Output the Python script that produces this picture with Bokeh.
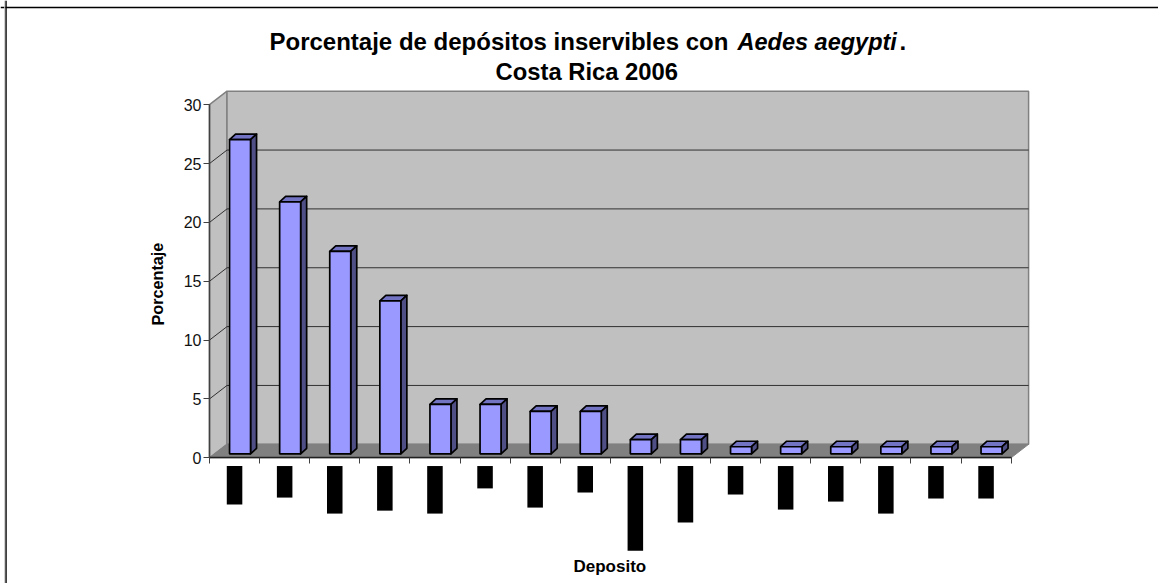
from bokeh.plotting import figure
from bokeh.embed import file_html
from bokeh.resources import INLINE
from bokeh.models import LinearAxis, FixedTicker, Range1d, Label, Span

categories = list(range(1, 17))
porcentaje = [26.7, 21.4, 17.2, 13.0, 4.2, 4.2, 3.6, 3.6, 1.2, 1.2, 0.6, 0.6, 0.6, 0.6, 0.6, 0.6]
# tick labels in the reference are blacked out: depth each black block reaches, in axis units
label_block_end = [-3.97, -3.38, -4.74, -4.49, -4.74, -2.6, -4.23, -2.95, -7.89, -5.5, -3.12, -4.4, -3.72, -4.74, -3.46, -3.46]
y_ticks = [0, 5, 10, 15, 20, 25, 30]

W, H = 1158, 583
X0, XSTEP = 209.0, 50.1     # px of axis origin, px per category
Y0, YUNIT = 457.3, 11.77    # px of value 0, px per value unit
DX, DY = 17.5 / XSTEP, 13.5 / YUNIT   # depth of the 3D box
BDX, BDY = 6.0 / XSTEP, 5.5 / YUNIT   # depth of one bar

p = figure(width=W, height=H, output_backend="svg", toolbar_location=None,
           min_border=0,
           x_range=Range1d((0 - X0) / XSTEP, (W - X0) / XSTEP),
           y_range=Range1d((Y0 - H) / YUNIT, Y0 / YUNIT),
           x_axis_location=None, y_axis_location=None)
p.grid.visible = False
p.outline_line_color = None
p.background_fill_color = "white"
p.border_fill_color = "white"

n = len(categories)
top = y_ticks[-1]
GC = "#808080"

p.patch([0, DX, DX, 0], [0, DY, top + DY, top], fill_color="#C0C0C0", line_color=GC, line_width=1.5)
p.patch([DX, n + DX, n + DX, DX], [DY, DY, top + DY, top + DY], fill_color="#C0C0C0", line_color=GC, line_width=1.5)
p.patch([0, n, n + DX, DX], [0, 0, DY, DY], fill_color=GC, line_color=GC, line_width=1)

vals = [v for v in y_ticks[1:-1]]
p.multi_line([[0, DX, n + DX] for _ in vals], [[v, v + DY, v + DY] for v in vals],
             line_color="#303030", line_width=1)

OFF = 0.5 + 5.5 / XSTEP
BW = 21.0 / XSTEP
BASE = 4.0 / YUNIT
for i, v in enumerate(porcentaje):
    l = i + OFF - BW / 2
    r = l + BW
    b = BASE
    t = BASE + v
    p.patch([l, r, r + BDX, l + BDX], [t, t, t + BDY, t + BDY], fill_color="#7373C4",
            line_color="black", line_width=1.7, line_join="round")
    p.patch([r, r + BDX, r + BDX, r], [b, b + BDY, t + BDY, t], fill_color="#4F4F86",
            line_color="black", line_width=1.7, line_join="round")
    p.quad(left=[l], right=[r], bottom=[b], top=[t], fill_color="#9999FF",
           line_color="black", line_width=1.7)

p.quad(left=[i + 0.50 - 0.155 for i in range(n)], right=[i + 0.50 + 0.155 for i in range(n)],
       top=[-0.7] * n, bottom=label_block_end, fill_color="black", line_color=None)

yax = LinearAxis(fixed_location=0, ticker=FixedTicker(ticks=y_ticks), bounds=(0, top))
yax.major_tick_in = 0
yax.major_tick_out = 6
yax.minor_tick_out = 0
yax.minor_tick_in = 0
yax.major_tick_line_color = "#404040"
yax.axis_line_color = "#404040"
yax.axis_line_width = 1.5
yax.major_label_text_font = "Liberation Sans"
yax.major_label_text_font_size = "16px"
yax.major_label_text_color = "#111111"
yax.major_label_standoff = 2
p.add_layout(yax, "left")

xax = LinearAxis(fixed_location=0, ticker=FixedTicker(ticks=list(range(n + 1))), bounds=(0, n),
                 major_label_overrides={i: "" for i in range(n + 1)})
xax.major_tick_in = 0
xax.major_tick_out = 6
xax.minor_tick_out = 0
xax.minor_tick_in = 0
xax.major_tick_line_color = "#404040"
xax.axis_line_color = "#202020"
xax.axis_line_width = 1.5
xax.major_label_text_font_size = "1px"
p.add_layout(xax, "below")

p.add_layout(Span(location=(Y0 - 7.0) / YUNIT, dimension="width", line_color="black", line_width=1.5))
p.add_layout(Span(location=(5.5 - X0) / XSTEP, dimension="height", line_color="black", line_width=1.5))
p.add_layout(Span(location=(4.2 - X0) / XSTEP, dimension="height", line_color="#C8C8C8", line_width=1))

def lab(text, x, y, size, style="bold", **kw):
    p.add_layout(Label(x=x, y=H - y, x_units="screen", y_units="screen", text=text,
                       text_font="Liberation Sans", text_font_size=size, text_font_style=style,
                       text_color="black", text_baseline="alphabetic", **kw))

lab("Porcentaje de depósitos inservibles con", 269, 41, "24px")
lab("Aedes aegypti", 737, 41, "23.5px", "bold italic")
lab(".", 899, 41, "24px")
lab("Costa Rica 2006", 495, 71, "23.8px")
lab("Porcentaje", 157, 325, "16.2px", angle=1.5708)
lab("Deposito", 573, 566, "17px")

open("out.html", "w").write(file_html(p, INLINE))
